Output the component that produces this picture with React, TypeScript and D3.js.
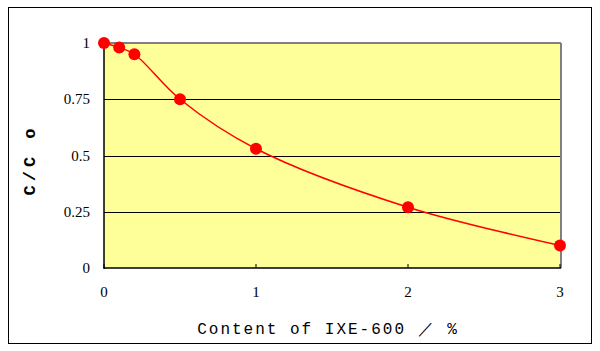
import React from "react";
import * as d3 from "d3";

const xValues = [0, 0.1, 0.2, 0.5, 1, 2, 3];
const yValues = [1.0, 0.98, 0.95, 0.75, 0.53, 0.27, 0.1];
const xTicks = [0, 1, 2, 3];
const yTicks = [0, 0.25, 0.5, 0.75, 1];
const yTickLabels = ["0", "0.25", "0.5", "0.75", "1"];
const xLabel = "Content of IXE-600 ／ %";
const yLabel = "C/C o";

export default function App() {
  const W = 600, H = 351;
  const left = 104, right = 560, top = 43, bottom = 268;
  const x = d3.scaleLinear().domain([0, 3]).range([left, right]);
  const y = d3.scaleLinear().domain([0, 1]).range([bottom, top]);
  const pts: [number, number][] = xValues.map((v, i) => [x(v), y(yValues[i])]);
  const line = d3.line().curve(d3.curveCatmullRom.alpha(0.5))(pts) || "";
  const font = "'Liberation Mono', 'DejaVu Sans Mono', monospace";
  const serif = "'Liberation Serif', 'DejaVu Serif', serif";
  return (
    <svg width={W} height={H} style={{ position: "absolute", left: 0, top: 0 }}>
      <rect x={0} y={0} width={W} height={H} fill="#fff" />
      <rect x={8.5} y={7.5} width={583} height={336} fill="#fff" stroke="#000" strokeWidth={1} />
      <rect x={left} y={top} width={right - left} height={bottom - top} fill="#FFFF99" />
      <line x1={left} x2={right + 1} y1={top} y2={top} stroke="#808080" strokeWidth={2} />
      <line x1={right + 1} x2={right + 1} y1={top} y2={bottom} stroke="#808080" strokeWidth={2} />
      {yTicks.filter(t => t > 0 && t < 1).map(t => (
        <line key={t} x1={left} x2={right} y1={Math.round(y(t)) + 0.5} y2={Math.round(y(t)) + 0.5} stroke="#000" strokeWidth={1} />
      ))}
      <line x1={left} x2={left} y1={top} y2={bottom + 1} stroke="#000" strokeWidth={1.5} />
      <line x1={left} x2={right + 1} y1={bottom} y2={bottom} stroke="#000" strokeWidth={1.5} />
      {xTicks.map(t => (
        <line key={t} x1={x(t)} x2={x(t)} y1={bottom} y2={bottom - 4} stroke="#000" strokeWidth={1} />
      ))}
      {yTicks.map((t, i) => (
        <text key={t} x={90} y={y(t) + 5} textAnchor="end" fontFamily={serif} fontSize={15}>
          {yTickLabels[i]}
        </text>
      ))}
      {xTicks.map(t => (
        <text key={t} x={x(t)} y={297} textAnchor="middle" fontFamily={serif} fontSize={15}>
          {t}
        </text>
      ))}
      <path d={line} fill="none" stroke="#FF0000" strokeWidth={1.5} />
      {pts.map((p, i) => (
        <circle key={i} cx={p[0]} cy={p[1]} r={6} fill="#FF0000" />
      ))}
      <text x={328} y={334} textAnchor="middle" fontFamily={font} fontSize={16} letterSpacing={2}>
        {xLabel}
      </text>
      <text transform={`translate(35,160) rotate(-90)`} textAnchor="middle" fontFamily={font} fontSize={17} fontWeight="bold" letterSpacing={4}>
        {yLabel}
      </text>
    </svg>
  );
}
